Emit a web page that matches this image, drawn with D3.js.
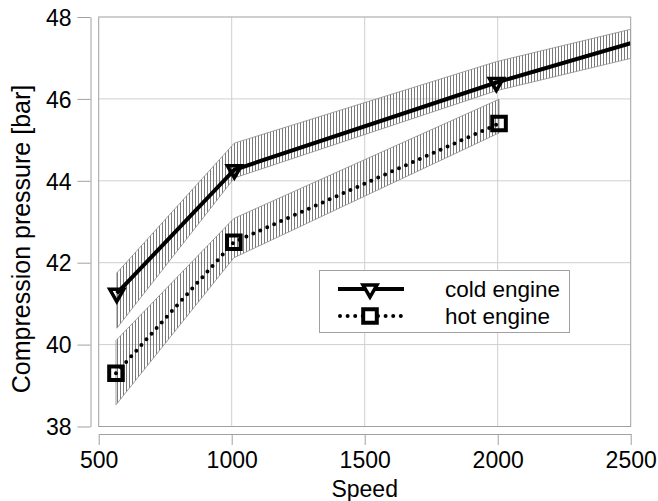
<!DOCTYPE html>
<html>
<head>
<meta charset="utf-8" />
<title>Compression pressure</title>
<script src="https://d3js.org/d3.v7.min.js"></script>
<style>
  body { margin: 0; background: #fff; }
  text { font-family: "Liberation Sans", Arial, sans-serif; fill: #000; }
</style>
</head>
<body>
<svg id="viz"></svg>
<script>
// values
var coldSpeed = [568, 1010, 1995, 2500];
var coldValue = [41.25, 44.27, 46.4, 47.36];
var coldUpper = [41.75, 44.92, 46.91, 47.7];
var coldLower = [40.4, 44.07, 46.2, 46.99];
var coldMarked = [true, true, true, false];

var hotSpeed = [565, 1008, 2005];
var hotValue = [39.3, 42.5, 45.4];
var hotUpper = [40.1, 43.08, 45.99];
var hotLower = [38.53, 42.12, 45.17];

var xTicks = [500, 1000, 1500, 2000, 2500];
var yTicks = [38, 40, 42, 44, 46, 48];
var seriesNames = ["cold engine", "hot engine"];

var width = 658, height = 501;
var pLeft = 98.7, pRight = 630.7, pTop = 17, pBottom = 426.5;

var svg = d3.select("#viz").attr("width", width).attr("height", height);

var xScale = d3.scaleLinear().domain([500, 2500]).range([pLeft, pRight]);
var yScale = d3.scaleLinear().domain([38, 48]).range([pBottom, pTop]);

// hatch pattern for the bands
var defs = svg.append("defs");
defs.append("pattern")
  .attr("id", "hatch")
  .attr("patternUnits", "userSpaceOnUse")
  .attr("width", 3).attr("height", 10)
  .append("line")
  .attr("x1", 0.5).attr("x2", 0.5).attr("y1", 0).attr("y2", 10)
  .attr("stroke", "#7a7a7a").attr("stroke-width", 1);
defs.append("clipPath").attr("id", "plotClip")
  .append("rect").attr("x", pLeft).attr("y", pTop)
  .attr("width", pRight - pLeft).attr("height", pBottom - pTop);

// grid
var grid = svg.append("g");
grid.selectAll("line.gx").data(xTicks.slice(1, -1)).enter().append("line")
  .attr("x1", d => xScale(d)).attr("x2", d => xScale(d))
  .attr("y1", pTop).attr("y2", pBottom)
  .attr("stroke", "#cfcfcf").attr("stroke-width", 1);
grid.selectAll("line.gy").data(yTicks.slice(1, -1)).enter().append("line")
  .attr("x1", pLeft).attr("x2", pRight)
  .attr("y1", d => yScale(d)).attr("y2", d => yScale(d))
  .attr("stroke", "#cfcfcf").attr("stroke-width", 1);

// bands
function band(speed, upper, lower) {
  var pts = speed.map((s, i) => [xScale(s), yScale(upper[i])]);
  for (var i = speed.length - 1; i >= 0; i--) pts.push([xScale(speed[i]), yScale(lower[i])]);
  return "M" + pts.join("L") + "Z";
}
var plot = svg.append("g").attr("clip-path", "url(#plotClip)");
plot.append("path").attr("d", band(coldSpeed, coldUpper, coldLower))
  .attr("fill", "url(#hatch)").attr("stroke", "#8a8a8a").attr("stroke-width", 0.8);
plot.append("path").attr("d", band(hotSpeed, hotUpper, hotLower))
  .attr("fill", "url(#hatch)").attr("stroke", "#8a8a8a").attr("stroke-width", 0.8);

// frame
svg.append("rect").attr("x", pLeft).attr("y", pTop)
  .attr("width", pRight - pLeft).attr("height", pBottom - pTop)
  .attr("fill", "none").attr("stroke", "#a0a0a0").attr("stroke-width", 1);

// lines
var line = d3.line();
plot.append("path")
  .attr("d", line(coldSpeed.map((s, i) => [xScale(s), yScale(coldValue[i])])))
  .attr("fill", "none").attr("stroke", "#000").attr("stroke-width", 4);
plot.append("path")
  .attr("d", line(hotSpeed.map((s, i) => [xScale(s), yScale(hotValue[i])])))
  .attr("fill", "none").attr("stroke", "#000").attr("stroke-width", 4)
  .attr("stroke-linecap", "round").attr("stroke-dasharray", "0 7.6");

// markers
var tri = d3.symbol().type(d3.symbolTriangle).size(85);
var sq = d3.symbol().type(d3.symbolSquare).size(185);
svg.selectAll("path.cold").data(coldSpeed.filter((s, i) => coldMarked[i])).enter().append("path")
  .attr("d", tri)
  .attr("transform", (d, i) => "translate(" + xScale(d) + "," + yScale(coldValue[i]) + ") rotate(180)")
  .attr("fill", "none").attr("stroke", "#000").attr("stroke-width", 3.5);
svg.selectAll("path.hot").data(hotSpeed).enter().append("path")
  .attr("d", sq)
  .attr("transform", (d, i) => "translate(" + xScale(d) + "," + yScale(hotValue[i]) + ")")
  .attr("fill", "none").attr("stroke", "#000").attr("stroke-width", 4);

// axes
var yAxis = d3.axisLeft(yScale).tickValues(yTicks).tickSize(13).tickSizeOuter(0).tickPadding(6);
var gy = svg.append("g").attr("transform", "translate(90.5,0)").call(yAxis);
var xAxis = d3.axisBottom(xScale).tickValues(xTicks).tickFormat(d3.format("d"))
  .tickSize(11).tickSizeOuter(0).tickPadding(7);
var gx = svg.append("g").attr("transform", "translate(0,434)").call(xAxis);
[gx, gy].forEach(function(g) {
  g.selectAll("path.domain, line").attr("stroke", "#a0a0a0");
  g.selectAll("text").attr("font-size", 23).attr("font-family", "Liberation Sans, Arial, sans-serif").attr("fill", "#000");
});
gy.selectAll("text").attr("dy", "0.36em");

svg.append("text").attr("x", (pLeft + pRight) / 2).attr("y", 497)
  .attr("text-anchor", "middle").attr("font-size", 23).text("Speed");
svg.append("text").attr("transform", "translate(30," + 239 + ") rotate(-90)")
  .attr("text-anchor", "middle").attr("font-size", 25).text("Compression pressure [bar]");

// legend
var lg = svg.append("g");
lg.append("rect").attr("x", 319.5).attr("y", 270.5).attr("width", 250).attr("height", 62)
  .attr("fill", "#fff").attr("stroke", "#a0a0a0").attr("stroke-width", 1);
lg.append("line").attr("x1", 338).attr("x2", 404).attr("y1", 289).attr("y2", 289)
  .attr("stroke", "#000").attr("stroke-width", 4);
lg.append("path").attr("d", tri).attr("transform", "translate(370,289) rotate(180)")
  .attr("fill", "#fff").attr("stroke", "#000").attr("stroke-width", 3.5);
lg.append("line").attr("x1", 340).attr("x2", 402).attr("y1", 316).attr("y2", 316)
  .attr("stroke", "#000").attr("stroke-width", 4)
  .attr("stroke-linecap", "round").attr("stroke-dasharray", "0 7.6");
lg.append("path").attr("d", sq).attr("transform", "translate(370,316)")
  .attr("fill", "#fff").attr("stroke", "#000").attr("stroke-width", 4);
lg.selectAll("text.lab").data(seriesNames).enter().append("text")
  .attr("x", 445).attr("y", (d, i) => 297 + i * 27)
  .attr("font-size", 22.5).text(d => d);
</script>
</body>
</html>
